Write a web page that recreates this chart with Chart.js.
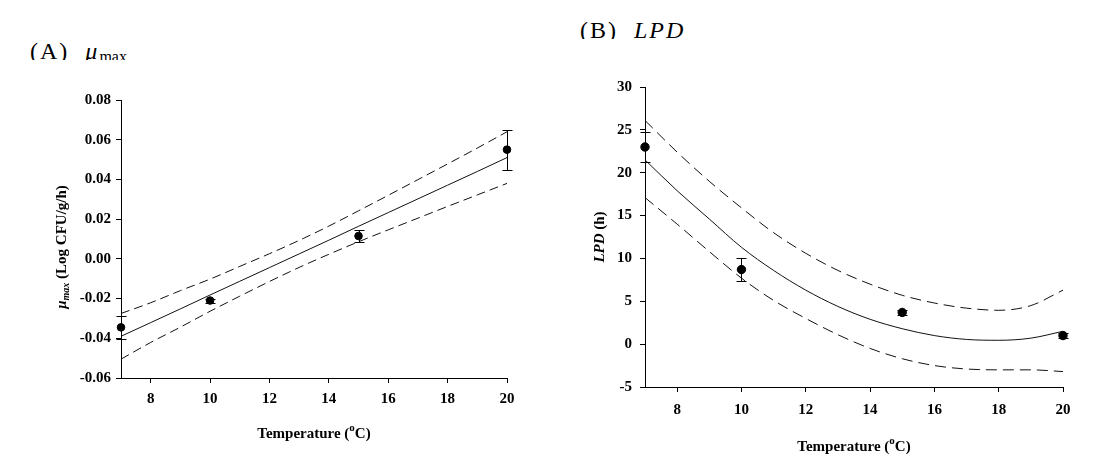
<!DOCTYPE html>
<html lang="en">
<head>
<meta charset="UTF-8">
<title>mu max and LPD vs temperature</title>
<script src="https://cdn.jsdelivr.net/npm/chart.js"></script>
<style>
  body { margin: 0; background: #fff; width: 1102px; height: 474px; position: relative; overflow: hidden; }
  .panel { position: absolute; top: 0; width: 551px; height: 474px; }
  .lbl { position: absolute; overflow: hidden; font-family: "Liberation Serif", serif; font-size: 24px; line-height: 24px; letter-spacing: 2px; white-space: nowrap; color: #000; }
</style>
</head>
<body>
<div class="lbl" style="left:30px; top:39px; height:21px;">(A)&nbsp;&nbsp;<i>μ</i><span style="font-size:16px; letter-spacing:0; vertical-align:-3px">max</span></div>
<div class="lbl" style="left:580px; top:18px; height:21px;">(B)&nbsp;&nbsp;<i>LPD</i></div>
<div class="panel" style="left:0"><canvas id="muChart"></canvas></div>
<div class="panel" style="left:551px"><canvas id="lpdChart"></canvas></div>

<script>
// observed temperatures
const obsTemps = [7, 10, 15, 20];
// temperatures where the fitted curves were read
const fitTemps = [7, 8, 9, 10, 11, 12, 13, 14, 15, 16, 17, 18, 19, 20];

// (A) mu max
const muObs = [-0.0345, -0.021, 0.0115, 0.055];
const muErr = [0.0057, 0.001, 0.003, 0.010];
const muFit = [-0.039, -0.0321, -0.0252, -0.0182, -0.0113, -0.0044, 0.0025, 0.0094, 0.0164, 0.0233, 0.0302, 0.0371, 0.044, 0.051];
const muUpper = [-0.0275, -0.0221, -0.016, -0.0102, -0.0038, 0.0026, 0.0093, 0.0165, 0.0242, 0.032, 0.0399, 0.0478, 0.0558, 0.064];
const muLower = [-0.0505, -0.0421, -0.0344, -0.0264, -0.0188, -0.0114, -0.0043, 0.0023, 0.0086, 0.0146, 0.0205, 0.0264, 0.0322, 0.038];

// (B) LPD
const lpdObs = [23.0, 8.7, 3.7, 1.0];
const lpdErr = [1.7, 1.35, 0.3, 0.25];
const lpdFit = [21.5, 17.9, 14.6, 11.3, 8.6, 6.3, 4.4, 2.9, 1.8, 1.0, 0.55, 0.45, 0.7, 1.5];
const lpdUpper = [26.1, 22.4, 19.0, 15.9, 13.0, 10.6, 8.6, 7.0, 5.7, 4.8, 4.2, 3.95, 4.5, 6.3];
const lpdLower = [17.1, 14.0, 10.8, 7.7, 5.1, 3.0, 1.1, -0.5, -1.7, -2.5, -2.9, -3.0, -3.0, -3.2];

const serif = '"Liberation Serif", "Times New Roman", serif';
const tickFont = { family: serif, size: 15, weight: 'bold' };

const pts = (xs, ys) => xs.map((x, i) => ({ x: x, y: ys[i] }));

// vertical error bars with caps
const errorBars = {
  id: 'errorBars',
  afterDatasetsDraw(chart, args, opts) {
    const { ctx, scales: { x, y } } = chart;
    ctx.save();
    ctx.strokeStyle = '#000';
    ctx.lineWidth = 1;
    opts.temps.forEach((t, i) => {
      const px = Math.round(x.getPixelForValue(t)) + 0.5;
      const top = Math.round(y.getPixelForValue(opts.values[i] + opts.errors[i])) + 0.5;
      const bot = Math.round(y.getPixelForValue(opts.values[i] - opts.errors[i])) + 0.5;
      ctx.beginPath();
      ctx.moveTo(px, top); ctx.lineTo(px, bot);
      ctx.moveTo(px - opts.cap, top); ctx.lineTo(px + opts.cap, top);
      ctx.moveTo(px - opts.cap, bot); ctx.lineTo(px + opts.cap, bot);
      ctx.stroke();
    });
    ctx.restore();
  }
};

function drawParts(ctx, parts, cx, baseY) {
  let w = 0;
  parts.forEach(p => { ctx.font = p.font; w += ctx.measureText(p.text).width; });
  let x = cx - w / 2;
  ctx.textAlign = 'left';
  parts.forEach(p => {
    ctx.font = p.font;
    ctx.fillText(p.text, x, baseY + (p.dy || 0));
    x += ctx.measureText(p.text).width;
  });
}

// axis titles with sub/superscripts
const axisTitles = {
  id: 'axisTitles',
  afterDraw(chart, args, opts) {
    const { ctx, chartArea: a } = chart;
    ctx.save();
    ctx.fillStyle = '#000';
    ctx.textBaseline = 'alphabetic';
    drawParts(ctx, opts.xParts, (a.left + a.right) / 2, opts.xTitleY);
    ctx.translate(opts.yTitleX, (a.top + a.bottom) / 2 + (opts.yShift || 0));
    ctx.rotate(-Math.PI / 2);
    drawParts(ctx, opts.yParts, 0, 0);
    ctx.restore();
  }
};

const tempTitle = [
  { text: 'Temperature (', font: 'bold 15px ' + serif },
  { text: 'o', font: 'bold 11px ' + serif, dy: -7 },
  { text: 'C)', font: 'bold 15px ' + serif }
];

function xAxis(h, pad) {
  return {
    type: 'linear', min: 7, max: 20,
    ticks: { stepSize: 2, font: tickFont, color: '#000', padding: pad, maxRotation: 0 },
    afterBuildTicks: s => { s.ticks = s.ticks.filter(t => t.value % 2 === 0); },
    grid: { drawOnChartArea: false, tickLength: 5, color: '#000' },
    border: { color: '#000', width: 1 },
    afterFit: s => { s.height = h; }
  };
}

function yAxis(min, max, step, w, pad, fmt) {
  return {
    min: min, max: max,
    ticks: { stepSize: step, font: tickFont, color: '#000', padding: pad, callback: fmt },
    grid: { drawOnChartArea: false, tickLength: 5, color: '#000' },
    border: { color: '#000', width: 1 },
    afterFit: s => { s.width = w; }
  };
}

function datasets(obs, fit, upper, lower, radius, dash) {
  const line = { showLine: true, pointRadius: 0, borderColor: '#111', borderWidth: 1, cubicInterpolationMode: 'monotone', clip: false };
  return [
    { data: pts(obsTemps, obs), backgroundColor: '#000', borderColor: '#000', pointRadius: radius, pointHoverRadius: radius, clip: false },
    Object.assign({ data: pts(fitTemps, fit) }, line),
    Object.assign({ data: pts(fitTemps, upper), borderDash: dash }, line),
    Object.assign({ data: pts(fitTemps, lower), borderDash: dash }, line)
  ];
}

new Chart(document.getElementById('muChart'), {
  type: 'scatter',
  data: { datasets: datasets(muObs, muFit, muUpper, muLower, 3.8, [9, 5]) },
  options: {
    responsive: true, maintainAspectRatio: false, animation: false,
    layout: { padding: { left: 0, top: 100, right: 44, bottom: 0 } },
    scales: {
      x: xAxis(96, 7),
      y: yAxis(-0.06, 0.08, 0.02, 121, 5, v => (Math.abs(v) < 1e-9 ? 0 : v).toFixed(2))
    },
    plugins: {
      legend: { display: false }, tooltip: { enabled: false },
      errorBars: { temps: obsTemps, values: muObs, errors: muErr, cap: 5 },
      axisTitles: {
        xParts: tempTitle, xTitleY: 438, yTitleX: 66, yShift: 8,
        yParts: [
          { text: 'μ', font: 'bold italic 15px ' + serif },
          { text: 'max', font: 'bold italic 10px ' + serif, dy: 3 },
          { text: ' (Log CFU/g/h)', font: 'bold 15px ' + serif }
        ]
      }
    }
  },
  plugins: [errorBars, axisTitles]
});

new Chart(document.getElementById('lpdChart'), {
  type: 'scatter',
  data: { datasets: datasets(lpdObs, lpdFit, lpdUpper, lpdLower, 4.2, [11, 6]) },
  options: {
    responsive: true, maintainAspectRatio: false, animation: false,
    layout: { padding: { left: 0, top: 87, right: 39, bottom: 0 } },
    scales: {
      x: xAxis(87, 9),
      y: yAxis(-5, 30, 5, 94, 8, v => v)
    },
    plugins: {
      legend: { display: false }, tooltip: { enabled: false },
      errorBars: { temps: obsTemps, values: lpdObs, errors: lpdErr, cap: 5 },
      axisTitles: {
        xParts: tempTitle, xTitleY: 451, yTitleX: 53,
        yParts: [
          { text: 'LPD', font: 'bold italic 15px ' + serif },
          { text: ' (h)', font: 'bold 15px ' + serif }
        ]
      }
    }
  },
  plugins: [errorBars, axisTitles]
});
</script>
</body>
</html>
